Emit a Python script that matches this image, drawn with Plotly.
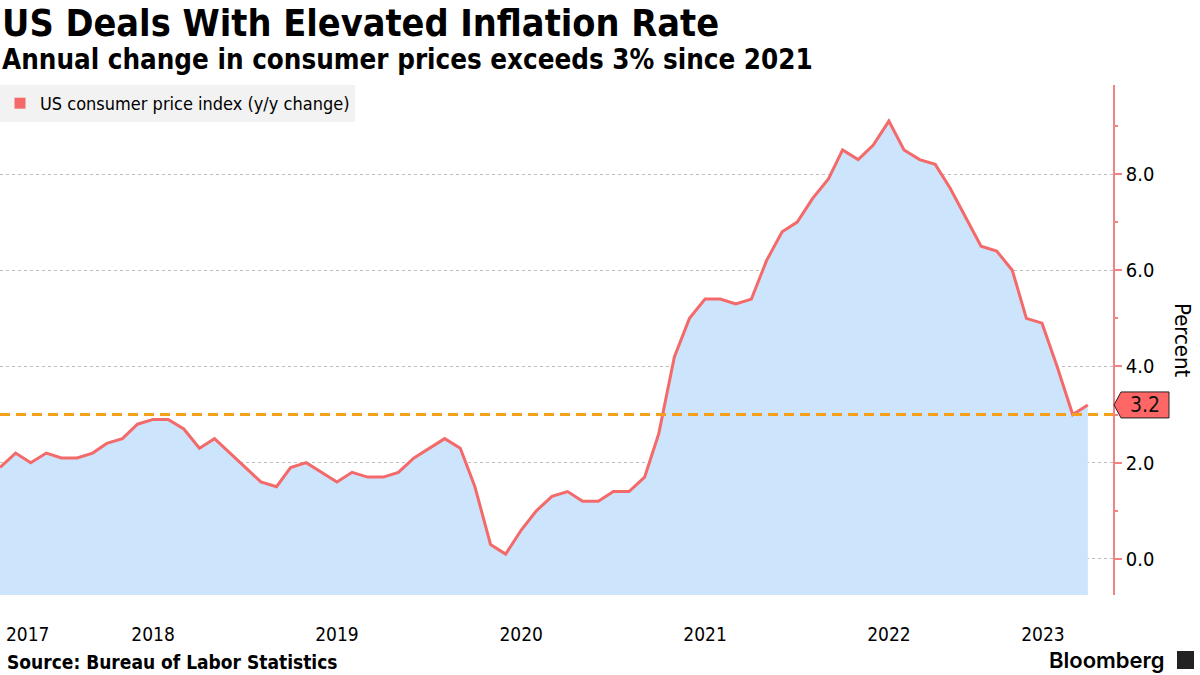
import plotly.graph_objects as go
import pandas as pd

# ---- data ----
months = pd.date_range("2017-08-01", "2023-07-01", freq="MS")
cpi_yoy = [
    1.9, 2.2, 2.0, 2.2, 2.1,
    2.1, 2.2, 2.4, 2.5, 2.8, 2.9, 2.9, 2.7, 2.3, 2.5, 2.2, 1.9,
    1.6, 1.5, 1.9, 2.0, 1.8, 1.6, 1.8, 1.7, 1.7, 1.8, 2.1, 2.3,
    2.5, 2.3, 1.5, 0.3, 0.1, 0.6, 1.0, 1.3, 1.4, 1.2, 1.2, 1.4,
    1.4, 1.7, 2.6, 4.2, 5.0, 5.4, 5.4, 5.3, 5.4, 6.2, 6.8, 7.0,
    7.5, 7.9, 8.5, 8.3, 8.6, 9.1, 8.5, 8.3, 8.2, 7.7, 7.1, 6.5,
    6.4, 6.0, 5.0, 4.9, 4.0, 3.0, 3.2,
]
year_labels = ["2017", "2018", "2019", "2020", "2021", "2022", "2023"]
year_label_dates = ["2017-09-25", "2018-06-01", "2019-06-01", "2020-06-01",
                    "2021-06-01", "2022-06-01", "2023-04-03"]
y_ticks = [0, 2, 4, 6, 8]
threshold = 3.0
y_range = [-0.75, 9.85]
x_range = ["2017-08-01", "2023-08-20"]

series_name = "US consumer price index (y/y change)"

# ---- styles ----
FONT = "DejaVu Sans Condensed"
LINE_C = "#f46a6a"
FILL_C = "#cce4fc"
ORANGE = "#f5a01a"
AXIS_C = "#f08484"

plot_w = 1200 - 87
plot_h = 675 - 85 - 80
px_per_unit = plot_h / (y_range[1] - y_range[0])

fig = go.Figure()

# baseline for the area fill (bottom of the plot)
fig.add_trace(go.Scatter(
    x=months, y=[y_range[0]] * len(months), mode="lines",
    line=dict(width=0), hoverinfo="skip", showlegend=False,
))
fig.add_trace(go.Scatter(
    x=months, y=cpi_yoy, mode="lines", fill="tonexty", fillcolor=FILL_C,
    line=dict(color=LINE_C, width=3), name=series_name, showlegend=False,
))
# legend entry (square swatch)
fig.add_trace(go.Scatter(
    x=[None], y=[None], mode="markers", name=series_name,
    marker=dict(symbol="square", size=11, color=LINE_C),
))

# threshold dashed line
fig.add_shape(type="line", xref="paper", x0=0, x1=1, yref="y",
              y0=threshold, y1=threshold,
              line=dict(color=ORANGE, width=3, dash="10px,6px"), layer="above")

# last value tag
last = cpi_yoy[-1]
hh = 13 / px_per_unit
tip, bl, br = 1 + 1 / plot_w, 1 + 8 / plot_w, 1 + 56 / plot_w
fig.add_shape(
    type="path", xref="paper", yref="y",
    path=(f"M {tip} {last} L {bl} {last + hh} L {br} {last + hh} "
          f"L {br} {last - hh} L {bl} {last - hh} Z"),
    fillcolor="#ff6666", line=dict(color="#222222", width=1), layer="above",
)
fig.add_annotation(xref="paper", yref="y", x=(bl + br) / 2, y=last,
                   xanchor="center", yanchor="middle",
                   text=f"{last:.1f}", showarrow=False,
                   font=dict(family=FONT, size=21, color="#111111"))

# titles & footer
fig.add_annotation(xref="paper", yref="paper", x=0, y=(595 - 23) / plot_h,
                   xanchor="left", yanchor="middle", showarrow=False,
                   text="<b>US Deals With Elevated Inflation Rate</b>",
                   font=dict(family=FONT, size=37.5, color="#000000"))
fig.add_annotation(xref="paper", yref="paper", x=0, y=(595 - 59) / plot_h,
                   xanchor="left", yanchor="middle", showarrow=False,
                   text="<b>Annual change in consumer prices exceeds 3% since 2021</b>",
                   font=dict(family=FONT, size=27.5, color="#000000"))
fig.add_annotation(xref="paper", yref="paper", x=5 / plot_w, y=(595 - 662) / plot_h,
                   xanchor="left", yanchor="middle", showarrow=False,
                   text="<b>Source: Bureau of Labor Statistics</b>",
                   font=dict(family=FONT, size=19, color="#000000"))
fig.add_annotation(xref="paper", yref="paper", x=1167 / plot_w, y=(595 - 660) / plot_h,
                   xanchor="right", yanchor="middle", showarrow=False,
                   text="Bloomberg",
                   font=dict(family="Inter", size=22, color="#000000", weight=600))
fig.add_shape(type="rect", xref="paper", yref="paper",
              x0=1177 / plot_w, x1=1194 / plot_w,
              y0=(595 - 669) / plot_h, y1=(595 - 651) / plot_h,
              fillcolor="#222222", line=dict(width=0))
fig.add_annotation(xref="paper", yref="paper", x=1183 / plot_w, y=0.5,
                   xanchor="center", yanchor="middle",
                   text="Percent", textangle=90, showarrow=False,
                   font=dict(family=FONT, size=22, color="#000000"))

fig.update_layout(
    width=1200, height=675,
    margin=dict(l=0, r=87, t=85, b=80),
    paper_bgcolor="white", plot_bgcolor="white",
    font=dict(family=FONT, color="#000000"),
    legend=dict(x=0, y=1, xanchor="left", yanchor="top",
                bgcolor="#f2f2f2", font=dict(family=FONT, size=18),
                itemwidth=30, borderwidth=0),
    xaxis=dict(type="date", range=x_range, showgrid=False, zeroline=False,
               showline=False, ticks="", tickvals=year_label_dates,
               ticktext=year_labels, ticklabelstandoff=26,
               tickfont=dict(family=FONT, size=19)),
    yaxis=dict(side="right", range=y_range, tickvals=y_ticks, tickformat=".1f",
               showgrid=True, gridcolor="#bdbdbd", griddash="dot", gridwidth=1,
               zeroline=False, showline=True, linecolor=AXIS_C, linewidth=1.5,
               ticks="outside", ticklen=7, tickcolor=AXIS_C, tickwidth=1.5,
               minor=dict(dtick=1, tick0=1, ticks="outside", ticklen=3,
                          tickcolor=AXIS_C, showgrid=False),
               tickfont=dict(family=FONT, size=20)),
)

fig.write_html("out.html", config={"displayModeBar": False},
               post_script="document.body.style.margin='0';")
